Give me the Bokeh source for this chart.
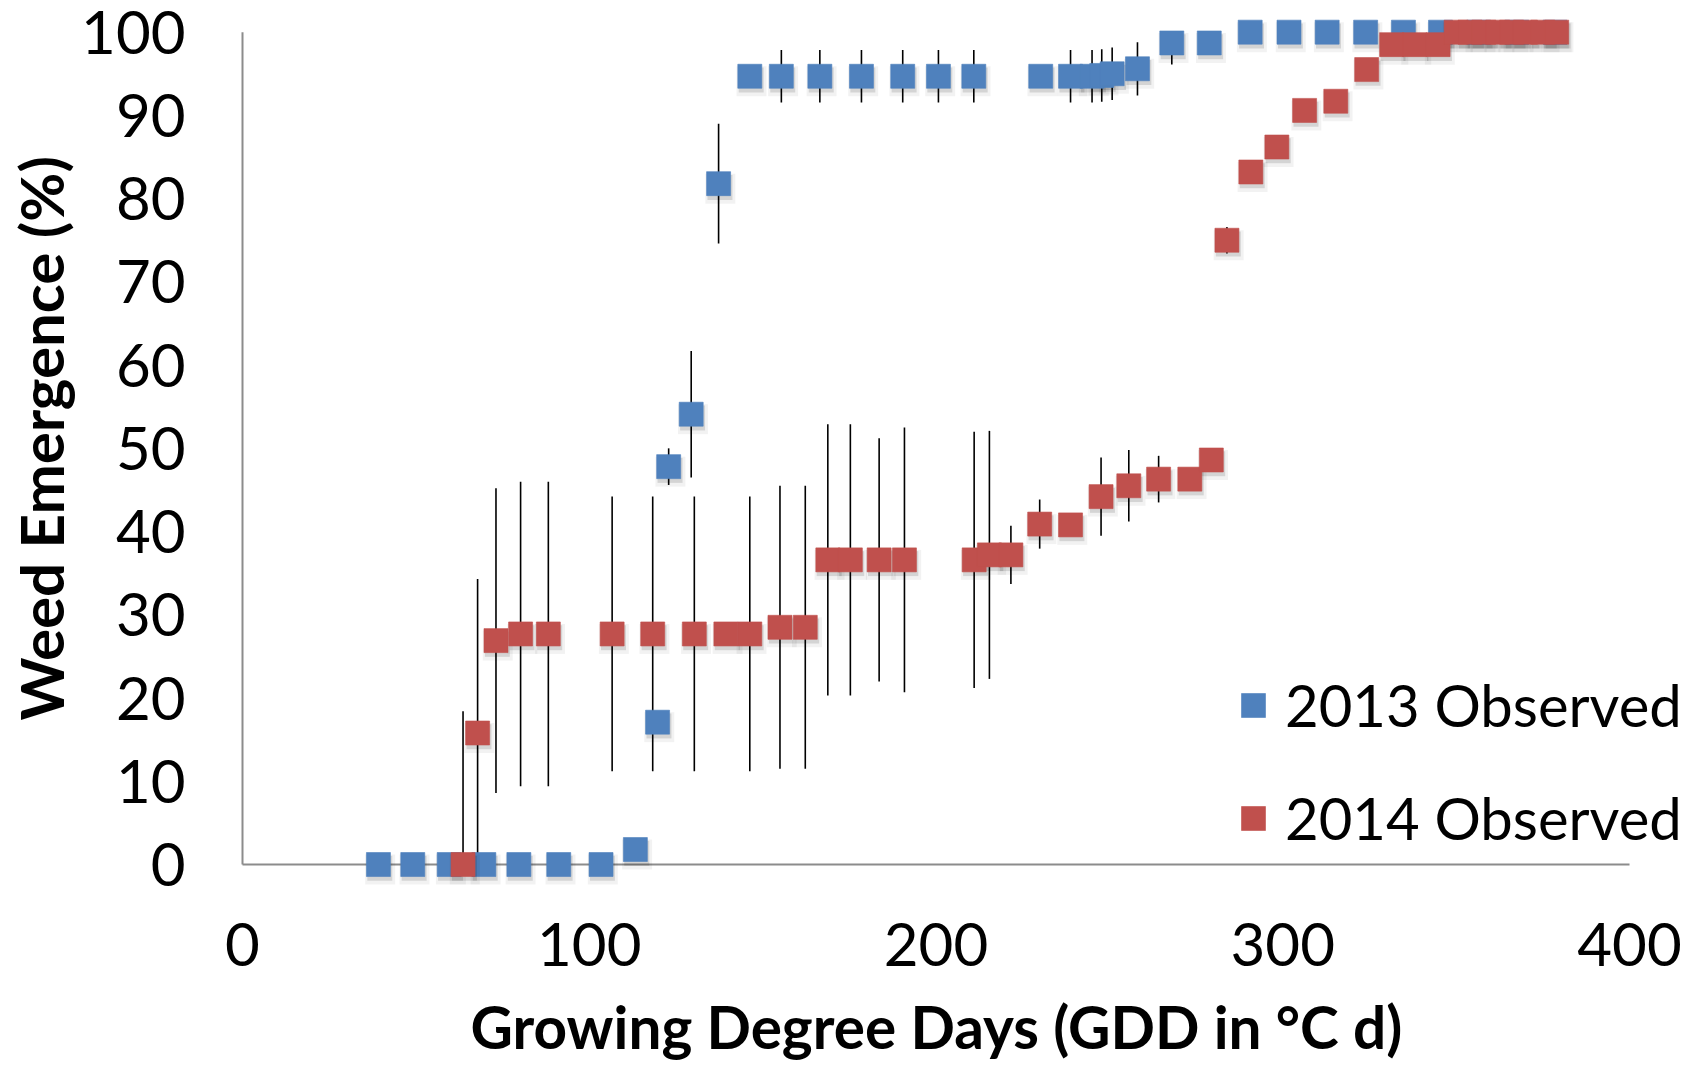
import numpy as np
from bokeh.plotting import figure
from bokeh.models import (Range1d, FixedTicker, Legend, LegendItem, ColumnDataSource, Title,
                          LinearAxis)
from bokeh.transform import dodge
from bokeh.embed import file_html
from bokeh.resources import INLINE

# ---------------- data ----------------
gdd_2013 = [39.2, 49.1, 59.6, 69.6, 79.7, 91.2, 103.4, 113.3, 119.7, 122.9, 129.4, 137.3,
            146.3, 155.4, 166.5, 178.5, 190.4, 200.7, 210.9, 230.2, 238.8, 245.0, 247.8,
            250.8, 258.1, 268.0, 278.8, 290.6, 301.8, 312.8, 323.9, 334.8, 345.5, 356.5,
            367.5, 378.5]
emerg_2013 = [0, 0, 0, 0, 0, 0, 0, 1.8, 17.1, 47.8, 54.1, 81.8,
              94.7, 94.7, 94.7, 94.7, 94.7, 94.7, 94.7, 94.7, 94.7, 94.7, 94.8,
              95.0, 95.6, 98.7, 98.7, 100, 100, 100, 100, 100, 100, 100,
              100, 100]
err_2013 = [0, 0, 0, 0, 0, 0, 0, 0, 0, 2.2, 7.6, 7.2,
            0, 3.15, 3.15, 3.15, 3.15, 3.15, 3.15, 0, 3.15, 3.15, 3.15,
            3.15, 3.2, 2.6, 0.5, 0, 0, 0, 0, 0, 0, 0,
            0, 0]

gdd_2014 = [63.6, 67.8, 73.1, 80.2, 88.2, 106.6, 118.3, 130.3, 139.4, 146.3,
            155.0, 162.3, 168.8, 175.3, 183.6, 190.9, 211.0, 215.4, 221.6, 229.9,
            238.8, 247.6, 255.6, 264.2, 273.2, 279.4, 283.9, 290.8, 298.3, 306.3,
            315.3, 324.2, 331.4, 338.0, 344.8, 350.0, 354.0, 358.0, 362.0, 366.0,
            370.0, 375.0, 379.0]
emerg_2014 = [0, 15.8, 26.9, 27.7, 27.7, 27.7, 27.7, 27.7, 27.7, 27.7,
              28.5, 28.5, 36.6, 36.6, 36.6, 36.6, 36.6, 37.2, 37.2, 40.9,
              40.8, 44.2, 45.5, 46.3, 46.3, 48.6, 75.0, 83.2, 86.2, 90.6,
              91.7, 95.5, 98.5, 98.5, 98.5, 100, 100, 100, 100, 100,
              100, 100, 100]
err_2014 = [18.4, 18.5, 18.3, 18.3, 18.3, 16.5, 16.5, 16.5, 0, 16.5,
            17.0, 17.0, 16.3, 16.3, 14.6, 15.9, 15.4, 14.9, 3.5, 2.95,
            0.5, 4.7, 4.3, 2.8, 1.0, 1.0, 1.6, 0, 0, 0,
            0, 0, 0, 0, 0, 0, 0, 0, 0, 0,
            0, 0, 0]

series_names = ["2013 Observed", "2014 Observed"]
x_ticks = [0, 100, 200, 300, 400]
y_ticks = [0, 10, 20, 30, 40, 50, 60, 70, 80, 90, 100]
x_title = "Growing Degree Days (GDD in °C d)"
y_title = "Weed Emergence (%)"

BLUE = "#4F81BD"
RED = "#C0504D"
FONT = "Lato"


def make_source(x, y, e):
    x = np.asarray(x, float)
    y = np.asarray(y, float)
    e = np.asarray(e, float)
    lo = np.clip(y - e, y_ticks[0], y_ticks[-1])
    hi = np.clip(y + e, y_ticks[0], y_ticks[-1])
    return ColumnDataSource(dict(x=x, y=y, lo=lo, hi=hi))


src13 = make_source(gdd_2013, emerg_2013, err_2013)
src14 = make_source(gdd_2014, emerg_2014, err_2014)

p = figure(width=1689, height=1065, output_backend="svg", toolbar_location=None,
           x_range=Range1d(-1.154, 417.3), y_range=Range1d(-3, 102),
           min_border_left=238, min_border_right=0, min_border_top=15,
           min_border_bottom=176)
p.outline_line_color = None
p.xgrid.visible = False
p.ygrid.visible = False
p.background_fill_color = "white"
p.border_fill_color = "white"

# axis lines drawn only over the data extent (0..400, 0..100)
p.segment(x0=[x_ticks[0]], y0=[y_ticks[0]], x1=[x_ticks[-1]], y1=[y_ticks[0]],
          line_color="#8C8C8C", line_width=2)
p.segment(x0=[x_ticks[0]], y0=[y_ticks[0]], x1=[x_ticks[0]], y1=[y_ticks[-1]],
          line_color="#8C8C8C", line_width=2)

# error bars (under the markers)
for src in (src13, src14):
    p.segment(x0="x", y0="lo", x1="x", y1="hi", source=src,
              line_color="black", line_width=1.6)

renderers = []
for src, col in ((src13, BLUE), (src14, RED)):
    # soft drop shadow
    p.scatter(x=dodge("x", 0.5, range=p.x_range), y=dodge("y", -0.6, range=p.y_range),
              source=src, marker="square", size=30, fill_color="black", fill_alpha=0.05,
              line_alpha=0)
    p.scatter(x=dodge("x", 0.4, range=p.x_range), y=dodge("y", -0.45, range=p.y_range),
              source=src, marker="square", size=25, fill_color="black", fill_alpha=0.12,
              line_alpha=0)
    r = p.scatter(x="x", y="y", source=src, marker="square", size=24,
                  fill_color=col, line_color=col, line_alpha=0.6, line_width=1)
    renderers.append(r)

# axes
for ax in (p.xaxis[0], p.yaxis[0]):
    ax.axis_line_color = None
    ax.major_tick_line_color = None
    ax.minor_tick_line_color = None
    ax.major_label_text_font = FONT
    ax.major_label_text_font_size = "60px"
    ax.major_label_text_color = "black"

p.xaxis.ticker = FixedTicker(ticks=x_ticks)
p.yaxis.ticker = FixedTicker(ticks=y_ticks)
p.xaxis.major_label_standoff = 27
p.yaxis.major_label_standoff = 47

# invisible spacer axis (white tick, no drawn label) to push the x title down
spacer = LinearAxis(ticker=FixedTicker(ticks=[x_ticks[0]]), axis_line_color=None,
                    major_tick_line_color="white", minor_tick_line_color=None,
                    major_tick_out=22, major_tick_in=0, minor_tick_out=0, minor_tick_in=0,
                    major_label_text_color=None, major_label_text_font_size="1px",
                    major_label_standoff=0)
p.add_layout(spacer, "below")

# axis titles as side-panel titles, offset so they are centred on the 0..400 / 0..100 extent
xt = Title(text=x_title, align="left", offset=232, vertical_align="top", standoff=0,
           text_font=FONT, text_font_style="bold", text_font_size="58.5px", text_color="black")
p.add_layout(xt, "below")
yt = Title(text=y_title, align="left", offset=169, vertical_align="top", standoff=0,
           text_font=FONT, text_font_style="bold", text_font_size="60px", text_color="black")
p.add_layout(yt, "left")

legend = Legend(items=[LegendItem(label=series_names[0], renderers=[renderers[0]]),
                       LegendItem(label=series_names[1], renderers=[renderers[1]])],
                location=(985, 37), orientation="vertical",
                glyph_width=60, glyph_height=60, label_standoff=2, spacing=44,
                padding=0, margin=0, border_line_alpha=0, background_fill_alpha=0,
                label_text_font=FONT, label_text_font_size="58px", label_text_color="black")
p.add_layout(legend, "center")

open("out.html", "w").write(file_html(p, INLINE))
